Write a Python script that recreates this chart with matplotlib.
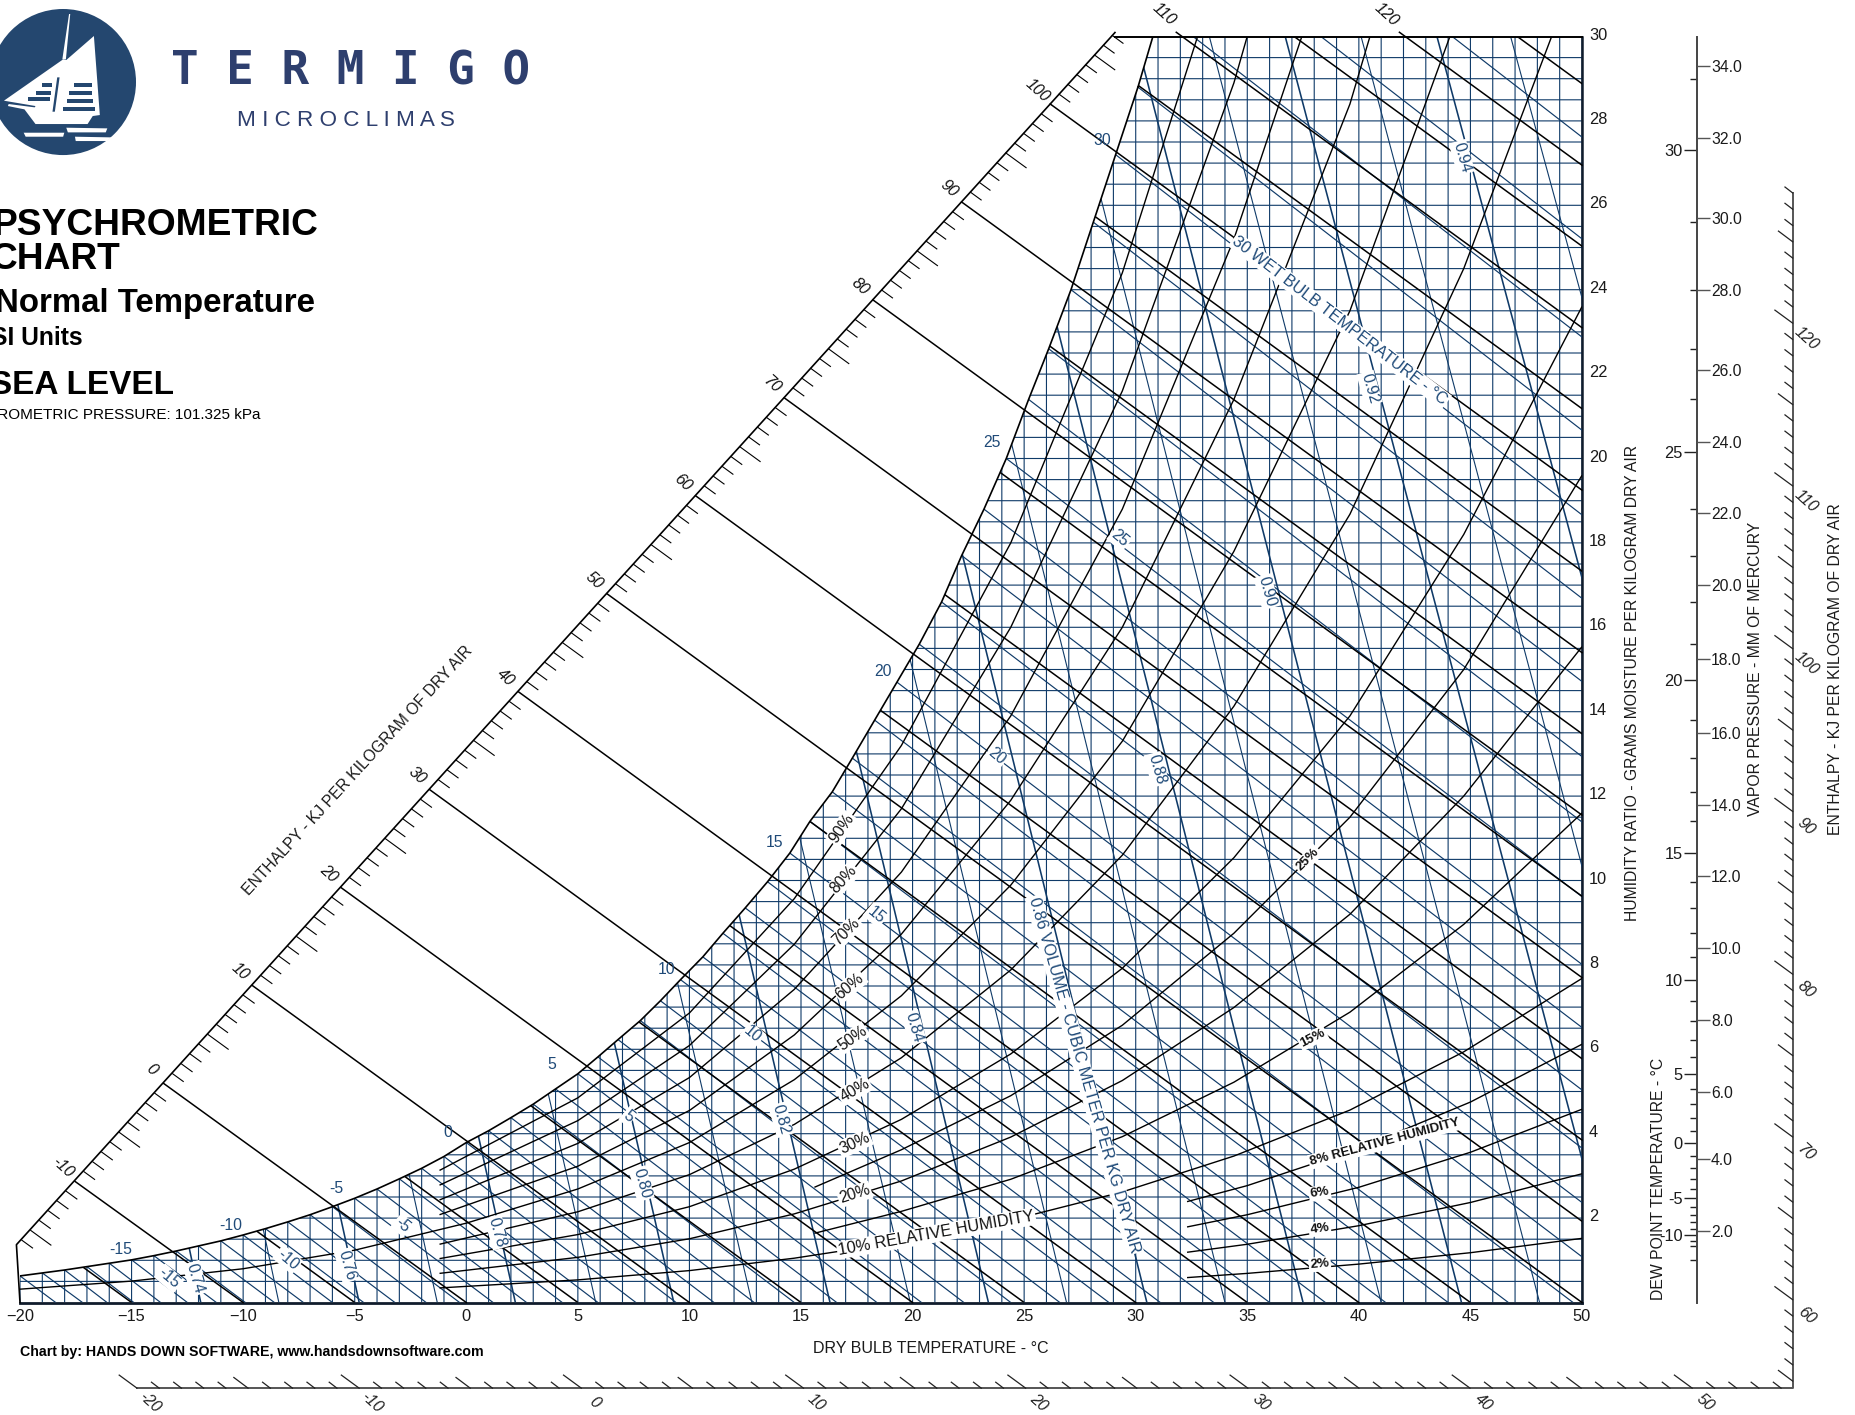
import numpy as np
import matplotlib
matplotlib.use("Agg")
import matplotlib.pyplot as plt
from matplotlib.patches import Circle, Polygon
from matplotlib.transforms import ScaledTranslation

plt.rcParams['font.family'] = ['Liberation Sans', 'DejaVu Sans']

# saturation curve, one point per degree of wet bulb (-20 .. 32)
wet_bulb = list(range(-20, 33))
sat_t = [-20, -19, -18, -17, -16, -15, -14, -13, -12, -11, -10, -9, -8, -7, -6, -5, -4, -3, -2, -1,
         0, 1, 2, 3, 4, 5, 5.9, 6.8, 7.8, 8.7, 9.6, 10.6, 11.5, 12.5, 13.5, 14.5, 15.4, 16.4, 17.3, 18.3,
         19.3, 20.3, 21.3, 22.2, 23.2, 24.2, 25.2, 26.1, 27.1, 28.1, 29.1, 30.1, 31.1]
sat_w = [0.63, 0.70, 0.77, 0.85, 0.93, 1.01, 1.11, 1.22, 1.34, 1.46, 1.60, 1.75, 1.91, 2.08, 2.27, 2.47, 2.69, 2.93, 3.18, 3.46,
         3.79, 4.07, 4.38, 4.70, 5.06, 5.42, 5.82, 6.23, 6.68, 7.15, 7.65, 8.19, 8.75, 9.35, 9.97, 10.65, 11.4, 12.1, 12.9, 13.8,
         14.7, 15.6, 16.6, 17.7, 18.8, 20.0, 21.4, 22.6, 24.0, 25.6, 27.2, 28.8, 30.6]
# dry bulb reached at zero moisture by each wet bulb line
wb_end_t = [-18.4, -17.2, -16.1, -14.9, -13.7, -12.5, -11.2, -9.9, -8.6, -7.3, -6.0, -4.6, -3.2, -1.8, -0.3, 1.2, 2.7, 4.3, 5.9, 7.6,
            9.4, 11.1, 12.9, 14.7, 16.6, 18.4, 20.4, 22.3, 24.4, 26.6, 28.8, 31.1, 33.5, 36.0, 38.5, 41.2, 44.0, 46.7, 49.6, 52.7,
            55.9, 59.1, 62.5, 66.2, 69.9, 73.9, 78.2, 82.0, 86.3, 91.0, 95.7, 100.6, 106.0]
# wet bulb lines that only cross the top corner: start t, start w, end t
wb_extra = [(32.2, 32.5, 111.5), (33.2, 34.5, 117.4), (34.2, 36.6, 123.3)]

# volume lines: dry bulb at w=0 and at w=30
vol_v = [0.74, 0.75, 0.76, 0.77, 0.78, 0.79, 0.80, 0.81, 0.82, 0.83, 0.84, 0.85, 0.86, 0.87, 0.88, 0.89, 0.90, 0.91, 0.92, 0.93, 0.94, 0.95, 0.96]
vol_t0 = [-11.9, -8.4, -4.8, -1.3, 2.2, 5.8, 9.3, 12.8, 16.3, 19.9, 23.4, 26.9, 30.5, 34.0, 37.5, 41.0, 44.6, 48.1, 51.7, 55.2, 58.7, 62.3, 65.8]
vol_t30 = [-23.9, -20.5, -17.2, -13.8, -10.4, -7.1, -3.7, -0.4, 3.0, 6.4, 9.8, 13.1, 16.5, 19.9, 23.2, 26.6, 30.0, 33.3, 36.7, 40.1, 43.5, 46.8, 50.2]

# enthalpy, kJ/kg: long lines reach the scale, the others stop at saturation
enth_major = [-10, 0, 10, 20, 30, 40, 50, 60, 70, 80, 90, 100, 110, 120]
enth_minor = [-15, -5, 5, 15, 25, 35, 45, 55, 65, 75, 85, 95, 105, 115, 125, 130, 135, 140]

# relative humidity curves
rh_t = [-1.2, 5, 10, 14.7, 19.5, 24.4, 29.4, 34.4, 39.6, 44.7, 50]
rh10 = [0.345, 0.536, 0.756, 1.05, 1.44, 1.95, 2.62, 3.47, 4.56, 5.94, 7.68]
rh20 = [0.69, 1.07, 1.51, 2.10, 2.88, 3.92, 5.26, 6.99, 9.20, 12.0, 15.54]
rh30 = [1.04, 1.61, 2.27, 3.16, 4.34, 5.89, 7.92, 10.54, 13.9, 18.2, 23.6]
rh40 = [1.38, 2.15, 3.03, 4.22, 5.80, 7.88, 10.6, 14.13, 18.68, 24.5, 31.9]
rh60 = [2.08, 3.23, 4.55, 6.34, 8.73, 11.9, 16.0, 21.4, 28.4, 37.5]
rh70 = [2.43, 3.77, 5.33, 7.42, 10.2, 13.9, 18.8, 25.2, 33.4]
rh80 = [2.78, 4.31, 6.09, 8.49, 11.7, 16.0, 21.6, 28.9, 38.5]
rh90 = [3.13, 4.85, 6.86, 9.57, 13.2, 18.0, 24.4, 32.7]
rh50_t = [-20, -15, -10, -5, 0, 5, 10, 14.7, 19.5, 24.4, 29.4, 34.4, 39.6, 44.7]
rh50 = [0.316, 0.507, 0.80, 1.24, 1.88, 2.69, 3.79, 5.28, 7.27, 9.89, 13.3, 17.8, 23.5, 30.9]
rh_mid_t = [15.6, 19.5, 24.4, 29.4, 34.4, 39.6, 44.7, 50]
rh15 = [1.64, 2.16, 2.92, 3.93, 5.22, 6.88, 8.96, 11.6]
rh25 = [2.73, 3.62, 4.9, 6.57, 8.75, 11.5, 15.0, 19.6]
rh_low_t = [32.3, 35, 40, 45, 50]
rh2 = [0.59, 0.69, 0.91, 1.18, 1.52]
rh4 = [1.19, 1.38, 1.82, 2.37, 3.05]
rh6 = [1.79, 2.08, 2.73, 3.56, 4.58]
rh8 = [2.39, 2.77, 3.65, 4.75, 6.12]

# side scales
mm_labels = ['2.0', '4.0', '6.0', '8.0', '10.0', '12.0', '14.0', '16.0', '18.0', '20.0', '22.0', '24.0', '26.0', '28.0', '30.0', '32.0', '34.0']
mm_w = [1.69, 3.4, 5.0, 6.7, 8.4, 10.1, 11.8, 13.5, 15.25, 17, 18.7, 20.4, 22.1, 24, 25.7, 27.6, 29.3]
dew_labels = ['-10', '-5', '0', '5', '10', '15', '20', '25', '30']
dew_w = [1.60, 2.47, 3.77, 5.42, 7.65, 10.65, 14.75, 20.15, 27.3]
dew_minor_w = [1.0, 1.34, 1.46, 1.75, 1.91, 2.08, 2.27, 2.69, 2.93, 3.18, 3.46, 4.07, 4.38, 4.70, 5.06, 5.82, 6.23, 6.68, 7.15,
               8.19, 8.75, 9.35, 9.97, 11.4, 12.1, 12.9, 13.8, 15.6, 16.6, 17.7, 18.8, 21.4, 22.6, 24.0, 25.6, 29.0]

NAVY = '#0f3a68'
BLUE_TXT = '#1f4a78'
ENTH_SLOPE = 0.385

fig = plt.figure(figsize=(18.56, 14.15), dpi=100)
W_PX, H_PX = 1856.0, 1415.0
L, R, T, B = 20.0, 1582.0, 36.5, 1302.5
ax = fig.add_axes([L / W_PX, 1 - B / H_PX, (R - L) / W_PX, (B - T) / H_PX])
ax.set_xlim(-20, 50)
ax.set_ylim(0, 30)

# chart area, everything inside is cut to it
keep = [i for i in range(len(sat_w)) if sat_w[i] <= 30]
region = [(-20, 0)] + [(sat_t[i], sat_w[i]) for i in keep] + [(30.77, 30), (50, 30), (50, 0)]
clip = Polygon(region, closed=True, transform=ax.transData, fc='none', ec='none')
ax.add_patch(clip)


def draw(xs, ys, color, lw, z=2):
    line, = ax.plot(xs, ys, color=color, lw=lw, zorder=z, solid_capstyle='butt')
    line.set_clip_path(clip)
    line.set_snap(False)


for t in range(-20, 51):
    draw([t, t], [0, 30], NAVY, 0.8)
for k in range(1, 60):
    w = k / 2
    draw([-20, 50], [w, w], NAVY, 0.8)

for v, t0, t30 in zip(vol_v, vol_t0, vol_t30):
    even = round(v * 100) % 2 == 0
    draw([t30, t0], [30, 0], NAVY, 1.15 if even else 0.8, 3)

for t, w, e in zip(sat_t, sat_w, wb_end_t):
    draw([t, e], [w, 0], NAVY, 0.85, 3)
for t, w, e in wb_extra:
    draw([t, e], [w, 0], NAVY, 0.85, 3)

for h in enth_minor:
    draw([h, h - 77.9], [0, 30], 'black', 1.1, 4)

# long enthalpy lines start on the slanted scale
AX_T0, AX_W0 = -13.56, 5.19  # h = 0 on the slanted scale
AX_DT, AX_DW = 0.3973, 0.2321
for h in enth_major:
    tstart = AX_T0 + AX_DT * h
    wstart = AX_W0 + AX_DW * h
    label_dy = 11.5
    if h > 107:
        wstart = 30.1
        tstart = h - wstart / ENTH_SLOPE
        label_dy = 15
    tend, wend = (h, 0) if h <= 50 else (50, (h - 50) * ENTH_SLOPE)
    ax.plot([tend, tstart], [wend, wstart], color='black', lw=1.1, zorder=4, clip_on=False)
    ax.text(tstart - 10.5 / 18.8, wstart + label_dy / 35.67, str(h), rotation=-42, style='italic', fontsize=11.5,
            ha='center', va='center', color='#111111', zorder=9)

# slanted scale and its ticks
ax.plot([-20, -20.16, AX_T0 + AX_DT * 107.3], [0, 1.37, AX_W0 + AX_DW * 107.3], color='black', lw=1.2, clip_on=False, zorder=5)
for h in range(-16, 108):
    if h % 10 == 0:
        continue
    dt = (17 if h % 5 == 0 else 9) / 18.8
    tt = AX_T0 + AX_DT * h
    ww = AX_W0 + AX_DW * h
    ax.plot([tt, tt + dt], [ww, ww - ENTH_SLOPE * dt], color='black', lw=0.8, clip_on=False, zorder=5)

for wl, tl in [(rh10, rh_t), (rh20, rh_t), (rh30, rh_t), (rh40, rh_t), (rh60, rh_t), (rh70, rh_t), (rh80, rh_t), (rh90, rh_t),
               (rh50, rh50_t), (rh15, rh_mid_t), (rh25, rh_mid_t), (rh2, rh_low_t), (rh4, rh_low_t), (rh6, rh_low_t), (rh8, rh_low_t)]:
    draw(tl[:len(wl)], wl, 'black', 1.0, 4)

ax.plot(sat_t[:-1], sat_w[:-1], color='black', lw=1.2, zorder=5)
ax.plot([sat_t[-2], 30.77], [sat_w[-2], 30], color='black', lw=1.2, zorder=5)

# frame
for s in ['left', 'top']:
    ax.spines[s].set_visible(False)
ax.spines['right'].set_linewidth(1.8)
ax.spines['bottom'].set_linewidth(2.0)
ax.spines['right'].set_color('#101c2c')
ax.spines['bottom'].set_color('#101c2c')
ax.plot([AX_T0 + AX_DT * 107.3, 50], [30, 30], color='black', lw=1.4, clip_on=False, zorder=5)
ax.patch.set_alpha(0)

ax.set_xticks(list(range(-20, 51, 5)))
ax.set_yticks(list(range(2, 31, 2)))
ax.yaxis.tick_right()
ax.tick_params(axis='both', length=0, labelsize=11.8, colors='#1a1a1a')
ax.tick_params(axis='x', pad=5)
ax.tick_params(axis='y', pad=5)
up = ScaledTranslation(0, 0.03, fig.dpi_scale_trans)
for lab in ax.get_yticklabels():
    lab.set_transform(lab.get_transform() + up)

# vapour pressure and dew point share one line
VX = 1697.0
ax2 = fig.add_axes([VX / W_PX, 1 - B / H_PX, 0.00001, (B - T) / H_PX])
ax2.set_ylim(0, 30)
ax2.set_xticks([])
ax2.patch.set_alpha(0)
for s in ['top', 'bottom', 'right']:
    ax2.spines[s].set_visible(False)
ax2.spines['left'].set_color('#444444')
ax2.spines['left'].set_linewidth(1.4)
ax2.set_yticks(dew_w)
ax2.set_yticklabels(dew_labels, fontsize=11.8, color='#1a1a1a')
ax2.set_yticks(dew_minor_w, minor=True)
ax2.tick_params(axis='y', which='major', length=9.5, width=1.0, pad=1, color='#222222')
ax2.tick_params(axis='y', which='minor', length=5, width=1.0, color='#222222')
ax3 = ax2.twinx()
ax3.set_ylim(0, 30)
for s in ['top', 'bottom', 'left', 'right']:
    ax3.spines[s].set_visible(False)
ax3.set_yticks(mm_w)
ax3.set_yticklabels(mm_labels, fontsize=11.3, color='#1a1a1a')
ax3.tick_params(axis='y', length=9.5, width=1.0, pad=0.5, color='#555555')

# page layer for everything else, in reference screen units
page = fig.add_axes([0, 0, 1, 1])
page.set_xlim(0, 1568)
page.set_ylim(1195.4, 0)
page.axis('off')
page.patch.set_alpha(0)
page.set_zorder(10)

# enthalpy scale under and right of the chart
enth_x = lambda h: 115.7 + 18.77 * (h + 20)
enth_y = lambda h: 1098 - 13.75 * (h - 60)
page.plot([enth_x(-20), 1514.5, 1514.5], [1172.7, 1172.7, enth_y(128)], color='#555555', lw=1.4)
for h in range(-20, 129):
    if h % 10 == 0:
        dx, dy = 15, 11
    elif h % 5 == 0:
        dx, dy = 12, 9
    else:
        dx, dy = 6.5, 5
    if h <= 54:
        px, py = enth_x(h), 1172.7
    else:
        px, py = 1514.5, enth_y(h)
    page.plot([px - dx, px], [py - dy, py], color='#222222', lw=0.9)
    if h % 10 == 0:
        if h <= 54:
            page.text(px + 11, 1185, str(h), rotation=-42, style='italic', fontsize=11.5, ha='center', va='center', color='#222222')
        else:
            page.text(1526, py + 13, str(h), rotation=-42, style='italic', fontsize=11.5, ha='center', va='center', color='#222222')

# labels with a white patch behind them
halo = dict(fc='white', ec='none', pad=1.0)
wb_out = [('-15', 102, 1056), ('-10', 195, 1035), ('-5', 284, 1004), ('0', 378, 957), ('5', 466, 899),
          ('10', 563, 819), ('15', 654, 712), ('20', 746, 567), ('25', 838, 374), ('30', 931, 119)]
for s, x, y in wb_out:
    page.text(x, y, s, fontsize=11.3, color=BLUE_TXT, ha='center', va='center')
wb_in = [('-15', 143, 1080), ('-10', 243, 1064), ('-5', 340, 1035), ('5', 531, 943), ('10', 636, 874),
         ('15', 740, 773), ('20', 842, 639), ('25', 946, 455)]
for s, x, y in wb_in:
    page.text(x, y, s, fontsize=11.3, color=BLUE_TXT, ha='center', va='center', rotation=-40, bbox=halo)
page.text(1132, 271, '30 WET BULB TEMPERATURE - °C', fontsize=11.8, color=BLUE_TXT, ha='center', va='center', rotation=-37.5, bbox=halo)
vol_in = [('0.74', 165, 1080), ('0.76', 293, 1069), ('0.78', 420, 1041), ('0.80', 542, 1000), ('0.82', 660, 946),
          ('0.84', 772, 868), ('0.88', 977, 650), ('0.90', 1070, 500), ('0.92', 1157, 328), ('0.94', 1235, 133)]
for s, x, y in vol_in:
    page.text(x, y, s, fontsize=11.3, color=BLUE_TXT, ha='center', va='center', rotation=-74, bbox=halo)
page.text(916, 908, '0.86 VOLUME - CUBIC METER PER KG DRY AIR', fontsize=11.8, color=BLUE_TXT, ha='center', va='center', rotation=-74, bbox=halo)
rh_in = [('90%', 711, 700, 55), ('80%', 713, 743, 48), ('70%', 715, 787, 45), ('60%', 718, 833, 40), ('50%', 720, 877, 35),
         ('40%', 722, 921, 30), ('30%', 722, 966, 25), ('20%', 722, 1009, 18)]
for s, x, y, r in rh_in:
    page.text(x, y, s, fontsize=11.3, color='#111111', ha='center', va='center', rotation=r, bbox=halo)
page.text(791, 1042, '10% RELATIVE HUMIDITY', fontsize=11.8, color='#111111', ha='center', va='center', rotation=10, bbox=halo)
rh_bold = [('25%', 1105, 726, 45), ('15%', 1109, 877, 27), ('6%', 1115, 1008, 8), ('4%', 1115, 1038, 7), ('2%', 1115, 1068, 5)]
for s, x, y, r in rh_bold:
    page.text(x, y, s, fontsize=9.5, weight='bold', color='#111111', ha='center', va='center', rotation=r, bbox=halo)
page.text(1170, 965, '8% RELATIVE HUMIDITY', fontsize=9.5, weight='bold', color='#111111', ha='center', va='center', rotation=15, bbox=halo)

# axis titles
page.text(1379, 577, 'HUMIDITY RATIO - GRAMS MOISTURE PER KILOGRAM DRY AIR', fontsize=11.3, rotation=90, ha='center', va='center', color='#1a1a1a')
page.text(1483, 565, 'VAPOR PRESSURE - MM OF MERCURY', fontsize=11.3, rotation=90, ha='center', va='center', color='#1a1a1a')
page.text(1401, 996, 'DEW POINT TEMPERATURE - °C', fontsize=11.3, rotation=90, ha='center', va='center', color='#1a1a1a')
page.text(1551, 565, 'ENTHALPY - KJ PER KILOGRAM OF DRY AIR', fontsize=11.3, rotation=90, ha='center', va='center', color='#1a1a1a')
page.text(302, 651, 'ENTHALPY - KJ PER KILOGRAM OF DRY AIR', fontsize=11.3, rotation=47.5, ha='center', va='center', color='#1a1a1a')
page.text(786, 1139, 'DRY BULB TEMPERATURE - °C', fontsize=11.5, ha='center', va='center', color='#1a1a1a')
page.text(17, 1142, 'Chart by: HANDS DOWN SOFTWARE, www.handsdownsoftware.com', fontsize=10.15, weight='bold', ha='left', va='center', color='black')

# title block, its left side runs off the page
page.text(268.6, 198.5, 'PSYCHROMETRIC', fontsize=26.7, weight='bold', ha='right', va='baseline', color='black')
page.text(101.4, 227.3, 'CHART', fontsize=26.7, weight='bold', ha='right', va='baseline', color='black')
page.text(266, 263.6, 'Normal Temperature', fontsize=23.8, weight='bold', ha='right', va='baseline', color='black')
page.text(70, 291.5, 'SI Units', fontsize=17.7, weight='bold', ha='right', va='baseline', color='black')
page.text(147, 332.9, 'SEA LEVEL', fontsize=24, weight='bold', ha='right', va='baseline', color='black')
page.text(220.5, 354.2, 'BAROMETRIC PRESSURE: 101.325 kPa', fontsize=11, ha='right', va='baseline', color='black')

LOGO = '#24476f'
TXT = '#2e3f6e'


def logo_pts(pts):
    return [(x / 3.0, y / 3.55) for x, y in pts]


page.add_patch(Circle((53.2, 69.3), 61.7, fc=LOGO, ec='none'))
page.add_patch(Polygon(logo_pts([(10, 302), (160, 178), (168, 180), (238, 108), (253, 345), (235, 348), (222, 372), (90, 372),
                                 (62, 328), (20, 318), (22, 312), (88, 322), (90, 318)]), fc='white', ec='none'))
page.add_patch(Polygon(logo_pts([(175, 42), (178, 42), (167, 178), (158, 178)]), fc='white', ec='none'))
for x0, y0, x1, y1 in [(187, 250, 232, 262), (175, 273, 233, 285), (170, 296, 236, 310), (160, 320, 240, 332),
                       (107, 250, 132, 260), (90, 272, 130, 285), (72, 292, 127, 304)]:
    page.add_patch(Polygon(logo_pts([(x0, y0), (x1, y0), (x1, y1), (x0, y1)]), fc=LOGO, ec='none'))
page.add_patch(Polygon(logo_pts([(145, 232), (151, 232), (139, 335), (133, 335)]), fc=LOGO, ec='none'))
for pts in [[(60, 398), (163, 398), (160, 410), (65, 410)], [(168, 383), (272, 385), (268, 397), (172, 397)],
            [(190, 410), (282, 412), (272, 423), (192, 423)]]:
    page.add_patch(Polygon(logo_pts(pts), fc='white', ec='none'))
page.text(296, 60.5, 'T E R M I G O', family='DejaVu Sans Mono', weight='bold', fontsize=33, color=TXT, ha='center', va='center')
page.text(292.3, 102, 'M I C R O C L I M A S', fontsize=16.2, color=TXT, ha='center', va='center')

fig.savefig('out.png', dpi=100, facecolor='white')
